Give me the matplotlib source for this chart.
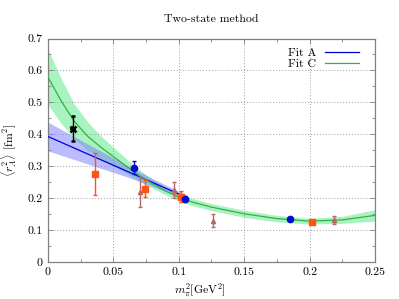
import matplotlib
matplotlib.use("Agg")
import matplotlib.pyplot as plt
from matplotlib.ticker import MultipleLocator, FixedLocator

plt.rcParams['font.family'] = ['cmr10', 'DejaVu Serif']
plt.rcParams['mathtext.fontset'] = 'cm'
plt.rcParams['axes.formatter.use_mathtext'] = True

# ---- data ----
# Fit C (green): curve and band
fitC_x = [0, 0.01, 0.02, 0.03, 0.04, 0.05, 0.06, 0.07, 0.08, 0.09, 0.10, 0.11, 0.125, 0.15, 0.175, 0.20, 0.225, 0.25]
fitC_y = [0.579, 0.505, 0.441, 0.395, 0.361, 0.330, 0.300, 0.270, 0.245, 0.222, 0.203, 0.188, 0.172, 0.151, 0.136, 0.128, 0.132, 0.146]
fitC_lo = [0.492, 0.435, 0.386, 0.350, 0.325, 0.301, 0.277, 0.252, 0.231, 0.210, 0.192, 0.177, 0.161, 0.140, 0.126, 0.119, 0.121, 0.128]
fitC_hi = [0.666, 0.575, 0.496, 0.440, 0.397, 0.359, 0.323, 0.288, 0.259, 0.234, 0.214, 0.199, 0.183, 0.162, 0.146, 0.137, 0.143, 0.164]

# Fit A (blue): curve and band
fitA_x = [0, 0.02, 0.04, 0.06, 0.08, 0.105]
fitA_y = [0.393, 0.357, 0.321, 0.285, 0.249, 0.204]
fitA_lo = [0.348, 0.321, 0.294, 0.267, 0.237, 0.196]
fitA_hi = [0.438, 0.393, 0.348, 0.303, 0.261, 0.212]

# data points
black_x = [0.0191]
black_y = [0.418]
black_e = [0.040]

orange_x = [0.0363, 0.0745, 0.1015, 0.2022]
orange_y = [0.275, 0.230, 0.205, 0.125]
orange_e = [0.065, 0.027, 0.018, 0.004]

blue_x = [0.0656, 0.1046, 0.185]
blue_y = [0.295, 0.198, 0.1356]
blue_e = [0.020, 0.010, 0.004]

brown_x = [0.0702, 0.0964, 0.1262, 0.2188]
brown_y = [0.219, 0.226, 0.130, 0.1325]
brown_e = [0.046, 0.026, 0.021, 0.013]

xticks = [0, 0.05, 0.10, 0.15, 0.20, 0.25]
xticklabels = ['0', '0.05', '0.1', '0.15', '0.2', '0.25']
yticks = [0, 0.1, 0.2, 0.3, 0.4, 0.5, 0.6, 0.7]
yticklabels = ['0', '0.1', '0.2', '0.3', '0.4', '0.5', '0.6', '0.7']

# ---- figure ----
fig = plt.figure(figsize=(3.99, 2.99), dpi=100)
ax = fig.add_axes([0.1203, 0.1237, 0.8195, 0.7475])

ax.fill_between(fitC_x, fitC_lo, fitC_hi, color='#55e885', alpha=0.5, lw=0, zorder=1)
ax.fill_between(fitA_x, fitA_lo, fitA_hi, color='#7878ff', alpha=0.5, lw=0, zorder=2)
ax.plot(fitA_x, fitA_y, color='#0000d0', lw=0.9, zorder=3, label='Fit A')
ax.plot(fitC_x, fitC_y, color='#35b045', lw=0.9, zorder=3, label='Fit C')

ekw = dict(ls='none', elinewidth=1.0, capsize=1.6, capthick=1.0, zorder=5)
ax.errorbar(brown_x, brown_y, yerr=brown_e, fmt='^', color='#b86868', ms=3.0, **ekw)
ax.errorbar(orange_x, orange_y, yerr=orange_e, fmt='s', color='#ff5214', ms=4.2, **ekw)
ax.errorbar(blue_x, blue_y, yerr=blue_e, fmt='o', color='#0010cc', ms=4.5, **ekw)
ax.errorbar(black_x, black_y, yerr=black_e, fmt='x', color='black', ms=4.5, mew=1.8, **ekw)
ax.plot(black_x, black_y, marker='+', color='black', ms=4.5, mew=1.2, ls='none', zorder=6)

ax.set_xlim(0, 0.25)
ax.set_ylim(0, 0.7)
ax.xaxis.set_major_locator(FixedLocator(xticks))
ax.set_xticklabels(xticklabels)
ax.yaxis.set_major_locator(FixedLocator(yticks))
ax.set_yticklabels(yticklabels)
ax.xaxis.set_minor_locator(MultipleLocator(0.025))
ax.yaxis.set_minor_locator(MultipleLocator(0.05))
ax.tick_params(which='both', direction='in', top=True, right=True,
               color='#808080', labelsize=8.5, pad=4)
ax.tick_params(which='major', length=3.5, width=0.6)
ax.tick_params(which='minor', length=2, width=0.6)
ax.grid(True, which='major', color='#a0a0a0', ls=(0, (1, 2)), lw=0.7)
for s in ax.spines.values():
    s.set_color('#808080')
    s.set_linewidth(0.9)

ax.set_title('Two-state method', fontsize=8.5, pad=12)
ax.set_xlabel(r'$m_\pi^2$[GeV$^2$]', fontsize=8.5, labelpad=2)
ax.xaxis.set_label_coords(0.465, -0.085)
ax.set_ylabel(r'$\langle r_A^2\rangle$ [fm$^2$]', fontsize=8.5, labelpad=6)

leg = ax.legend(loc='upper right', frameon=False, markerfirst=False,
                fontsize=8.5, handlelength=2.9, handletextpad=0.7,
                labelspacing=0.05, borderaxespad=0.4, bbox_to_anchor=(0.98, 1.0))
for t in leg.get_texts():
    t.set_ha('right')

fig.savefig('out.png', dpi=100)
